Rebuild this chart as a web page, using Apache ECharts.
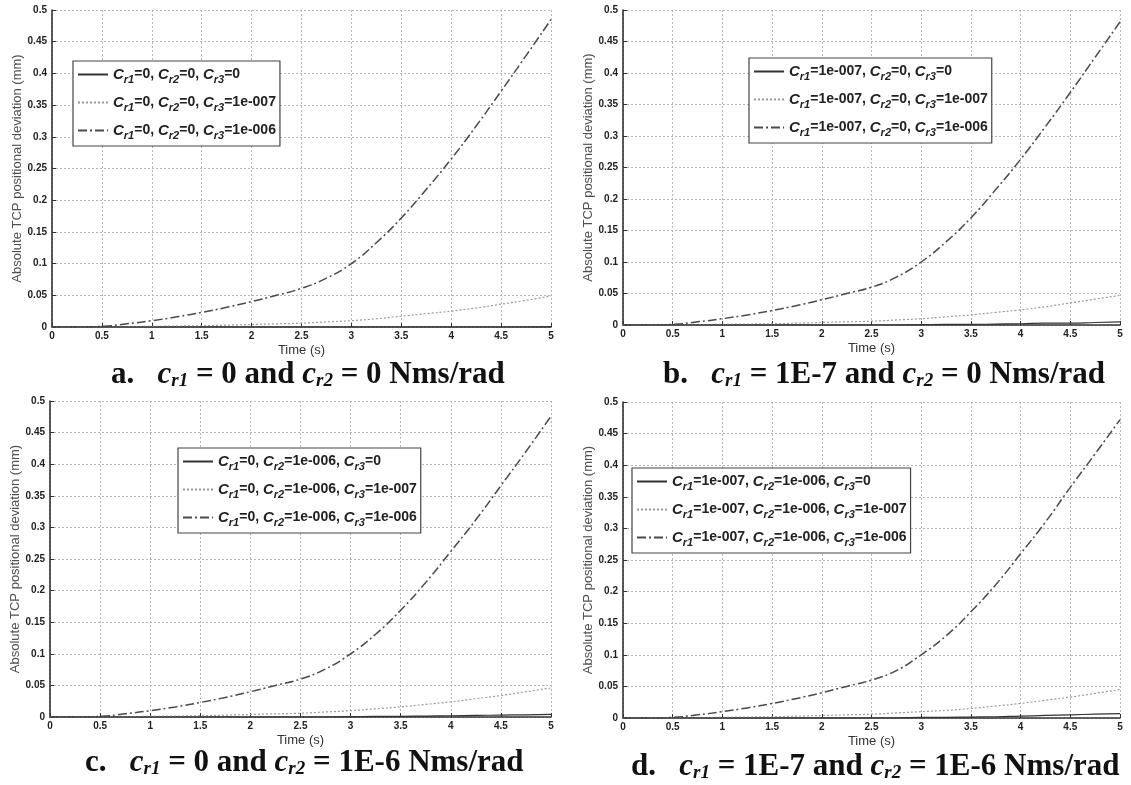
<!DOCTYPE html>
<html>
<head>
<meta charset="utf-8">
<script src="https://cdn.jsdelivr.net/npm/echarts@6/dist/echarts.min.js"></script>
<style>html,body{margin:0;padding:0;background:#fff}#c{width:1131px;height:785px}</style>
</head>
<body>
<div id="c"></div>
<script>
// ---- data ----
const time = [0,0.25,0.5,0.75,1,1.25,1.5,1.75,2,2.25,2.5,2.75,3,3.25,3.5,3.75,4,4.25,4.5,4.75,5];
const xTicks = [0,0.5,1,1.5,2,2.5,3,3.5,4,4.5,5];
const yTicks = [0,0.05,0.1,0.15,0.2,0.25,0.3,0.35,0.4,0.45,0.5];

// panel a: cr1=0, cr2=0
const a_s1 = [0,0,0,0,0,0,0,0,0,0,0,0,0,0,0,0,0,0,0,0,0.0005];
const a_s2 = [0,0,0,0.0005,0.001,0.0015,0.002,0.003,0.004,0.005,0.006,0.008,0.01,0.013,0.017,0.021,0.025,0.03,0.036,0.042,0.049];
const a_s3 = [0,0,0.001,0.005,0.01,0.016,0.023,0.031,0.04,0.05,0.061,0.077,0.1,0.133,0.172,0.217,0.265,0.317,0.372,0.428,0.485];
// panel b: cr1=1e-7, cr2=0
const b_s1 = [0,0,0,0,0,0,0,0,0,0,0,0,0.0005,0.001,0.001,0.0015,0.002,0.003,0.003,0.004,0.005];
const b_s2 = [0,0,0,0.0005,0.001,0.0015,0.002,0.003,0.004,0.005,0.006,0.008,0.01,0.013,0.016,0.02,0.024,0.029,0.035,0.041,0.047];
const b_s3 = [0,0,0.001,0.005,0.01,0.016,0.023,0.031,0.04,0.05,0.06,0.076,0.1,0.132,0.17,0.215,0.263,0.315,0.369,0.425,0.481];
// panel c: cr1=0, cr2=1e-6
const c_s1 = [0,0,0,0,0,0,0,0,0,0,0,0,0.0005,0.001,0.001,0.0015,0.002,0.0025,0.003,0.0035,0.004];
const c_s2 = [0,0,0,0.0005,0.001,0.0015,0.002,0.003,0.004,0.005,0.006,0.008,0.01,0.013,0.016,0.02,0.024,0.029,0.034,0.04,0.046];
const c_s3 = [0,0,0.001,0.005,0.01,0.016,0.023,0.031,0.04,0.05,0.06,0.076,0.1,0.131,0.169,0.213,0.262,0.312,0.366,0.42,0.476];
// panel d: cr1=1e-7, cr2=1e-6
const d_s1 = [0,0,0,0,0,0,0,0,0,0,0,0,0.001,0.001,0.0015,0.002,0.003,0.004,0.005,0.006,0.007];
const d_s2 = [0,0,0,0.0005,0.001,0.0015,0.002,0.003,0.004,0.005,0.006,0.008,0.01,0.012,0.015,0.019,0.023,0.028,0.033,0.039,0.045];
const d_s3 = [0,0,0.001,0.005,0.01,0.016,0.023,0.031,0.04,0.05,0.06,0.075,0.1,0.13,0.168,0.211,0.26,0.31,0.365,0.418,0.472];

const names = [
  ['Cr1=0, Cr2=0, Cr3=0','Cr1=0, Cr2=0, Cr3=1e-007','Cr1=0, Cr2=0, Cr3=1e-006'],
  ['Cr1=1e-007, Cr2=0, Cr3=0','Cr1=1e-007, Cr2=0, Cr3=1e-007','Cr1=1e-007, Cr2=0, Cr3=1e-006'],
  ['Cr1=0, Cr2=1e-006, Cr3=0','Cr1=0, Cr2=1e-006, Cr3=1e-007','Cr1=0, Cr2=1e-006, Cr3=1e-006'],
  ['Cr1=1e-007, Cr2=1e-006, Cr3=0','Cr1=1e-007, Cr2=1e-006, Cr3=1e-007','Cr1=1e-007, Cr2=1e-006, Cr3=1e-006']
];
const captions = [
  ['a.','0','0'],
  ['b.','1E-7','0'],
  ['c.','0','1E-6'],
  ['d.','1E-7','1E-6']
];
const panelData = [[a_s1,a_s2,a_s3],[b_s1,b_s2,b_s3],[c_s1,c_s2,c_s3],[d_s1,d_s2,d_s3]];

// ---- layout ----
const grids = [
  {left:52, top:10, width:499, height:317},
  {left:623, top:10, width:497, height:315},
  {left:50, top:401, width:501, height:316},
  {left:623, top:402, width:497, height:316}
];
const legendPos = [
  {left:73, top:61},
  {left:749, top:58},
  {left:178, top:448},
  {left:632, top:468}
];
const captionPos = [
  {left:106, top:354},
  {left:658, top:354},
  {left:80, top:742},
  {left:626, top:746}
];
const lineStyles = [
  {color:'#333', width:1.2, type:'solid'},
  {color:'#9a9a9a', width:1.2, type:[2,2]},
  {color:'#4a4a4a', width:1.5, type:[9,3,2,3]}
];

const chart = echarts.init(document.getElementById('c'));
const xAxis = [], yAxis = [], series = [], legend = [], title = [];
grids.forEach((g, i) => {
  xAxis.push({
    type:'value', gridIndex:i, min:0, max:5, interval:0.5,
    name:'Time (s)', nameLocation:'middle', nameGap:17,
    nameTextStyle:{fontFamily:'Liberation Sans', fontSize:13, color:'#333'},
    axisLine:{lineStyle:{color:'#333', width:1.6}},
    axisTick:{inside:true, length:4, lineStyle:{color:'#333'}},
    axisLabel:{fontFamily:'Liberation Sans', fontSize:10, fontWeight:'bold', color:'#222', margin:4},
    splitLine:{show:true, lineStyle:{color:'#b5b5b5', type:[2,2], width:1}}
  });
  yAxis.push({
    type:'value', gridIndex:i, min:0, max:0.5, interval:0.05,
    name:'Absolute TCP positional deviation (mm)', nameLocation:'middle', nameGap:28,
    nameTextStyle:{fontFamily:'Liberation Sans', fontSize:13, color:'#505050'},
    axisLine:{show:true, lineStyle:{color:'#333', width:1.6}},
    axisTick:{show:true, inside:true, length:4, lineStyle:{color:'#333'}},
    axisLabel:{fontFamily:'Liberation Sans', fontSize:10, fontWeight:'bold', color:'#222', margin:5},
    splitLine:{show:true, lineStyle:{color:'#b5b5b5', type:[2,2], width:1}}
  });
  panelData[i].forEach((vals, k) => {
    series.push({
      type:'line', name:names[i][k], xAxisIndex:i, yAxisIndex:i,
      data: time.map((t, j) => [t, vals[j]]),
      symbol:'none', showSymbol:false, smooth:true, lineStyle:lineStyles[k], itemStyle:{color:lineStyles[k].color},
      z: 3 - k
    });
  });
  legend.push({
    data:names[i], orient:'vertical', left:legendPos[i].left, top:legendPos[i].top,
    backgroundColor:'#fff', borderColor:'#444', borderWidth:1.2, borderRadius:0,
    padding:[6,4,5,4], itemGap:10, itemWidth:30, itemHeight:12,
    selectedMode:false,
    itemStyle:{opacity:0},
    formatter: n => n.replace(/C(r\d)/g, '{c|C}{s|$1}'),
    textStyle:{
      fontFamily:'Liberation Sans', fontSize:14, fontWeight:'bold', color:'#222',
      rich:{
        c:{fontFamily:'Liberation Sans', fontSize:15, fontWeight:'bold', fontStyle:'italic', color:'#222'},
        s:{fontFamily:'Liberation Sans', fontSize:11, fontWeight:'bold', fontStyle:'italic', color:'#222', padding:[10,0,0,0]}
      }
    }
  });
  const cp = captions[i];
  title.push({
    left:captionPos[i].left, top:captionPos[i].top,
    text: cp[0] + '   {i|c}{s|r1}{n| = ' + cp[1] + ' and }{i|c}{s|r2}{n| = ' + cp[2] + ' Nms/rad}',
    textStyle:{
      fontFamily:'Liberation Serif', fontSize:31, fontWeight:'bold', color:'#111',
      rich:{
        n:{fontFamily:'Liberation Serif', fontSize:31, fontWeight:'bold', color:'#111'},
        i:{fontFamily:'Liberation Serif', fontSize:31, fontWeight:'bold', fontStyle:'italic', color:'#111'},
        s:{fontFamily:'Liberation Serif', fontSize:19, fontWeight:'bold', fontStyle:'italic', color:'#111', padding:[13,0,0,0]}
      }
    }
  });
});

chart.setOption({
  animation:false,
  backgroundColor:'#fff',
  title, legend, grid:grids, xAxis, yAxis, series
});
</script>
</body>
</html>
